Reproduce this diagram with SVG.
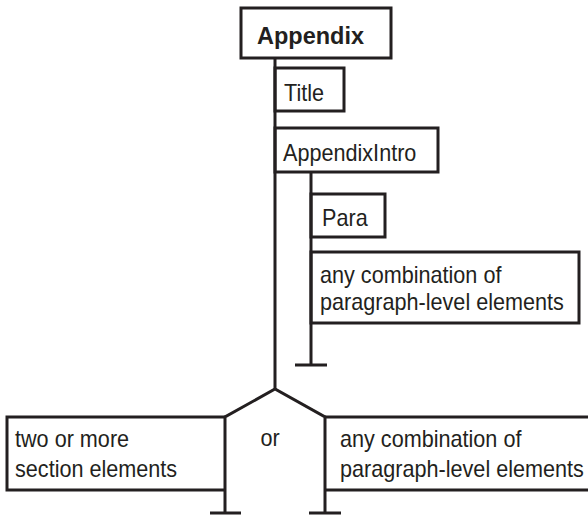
<svg xmlns="http://www.w3.org/2000/svg" width="588" height="515" viewBox="0 0 588 515">
<style>
.box{fill:none;stroke:#231f20;stroke-width:3}
.ln{fill:none;stroke:#231f20;stroke-width:3}
.t{font-family:"Liberation Sans",Arial,sans-serif;font-size:23px;fill:#231f20}
.b{font-family:"Liberation Sans",Arial,sans-serif;font-size:23.5px;font-weight:bold;fill:#231f20}
</style>
<rect width="588" height="515" fill="#ffffff"/>
<g id="connectors">
<path class="ln" d="M275,58 V389"/>
<path class="ln" d="M311,172 V365 M295,365 H327"/>
<path class="ln" d="M225,513 V417 L275,389 L325,417 V513"/>
<path class="ln" d="M210,513 H241 M309,513 H341"/>
</g>
<g id="appendix">
<rect class="box" x="241" y="8" width="150" height="50"/>
<text class="b" x="257" y="44">Appendix</text>
</g>
<g id="title">
<rect class="box" x="275" y="68" width="69" height="43"/>
<text class="t" transform="translate(284,101) scale(0.94,1)">Title</text>
</g>
<g id="appendixintro">
<rect class="box" x="275" y="128" width="163" height="44"/>
<text class="t" transform="translate(283,161) scale(0.94,1)">AppendixIntro</text>
</g>
<g id="para">
<rect class="box" x="311" y="194" width="74" height="43"/>
<text class="t" transform="translate(322,226) scale(0.94,1)">Para</text>
</g>
<g id="para-level-1">
<rect class="box" x="311" y="252" width="268" height="71"/>
<text class="t" transform="translate(320,283) scale(0.94,1)">any combination of</text>
<text class="t" transform="translate(320,310) scale(0.94,1)">paragraph-level elements</text>
</g>
<g id="section-elements">
<path class="box" d="M225,417 H7 V490 H225"/>
<text class="t" transform="translate(15,447) scale(0.94,1)">two or more</text>
<text class="t" transform="translate(15,477) scale(0.94,1)">section elements</text>
</g>
<g id="or-label">
<text class="t" transform="translate(270,446) scale(0.94,1)" text-anchor="middle">or</text>
</g>
<g id="para-level-2">
<path class="box" d="M325,417 H592 M325,490 H592"/>
<text class="t" transform="translate(340,447) scale(0.94,1)">any combination of</text>
<text class="t" transform="translate(340,477) scale(0.94,1)">paragraph-level elements</text>
</g>
</svg>
